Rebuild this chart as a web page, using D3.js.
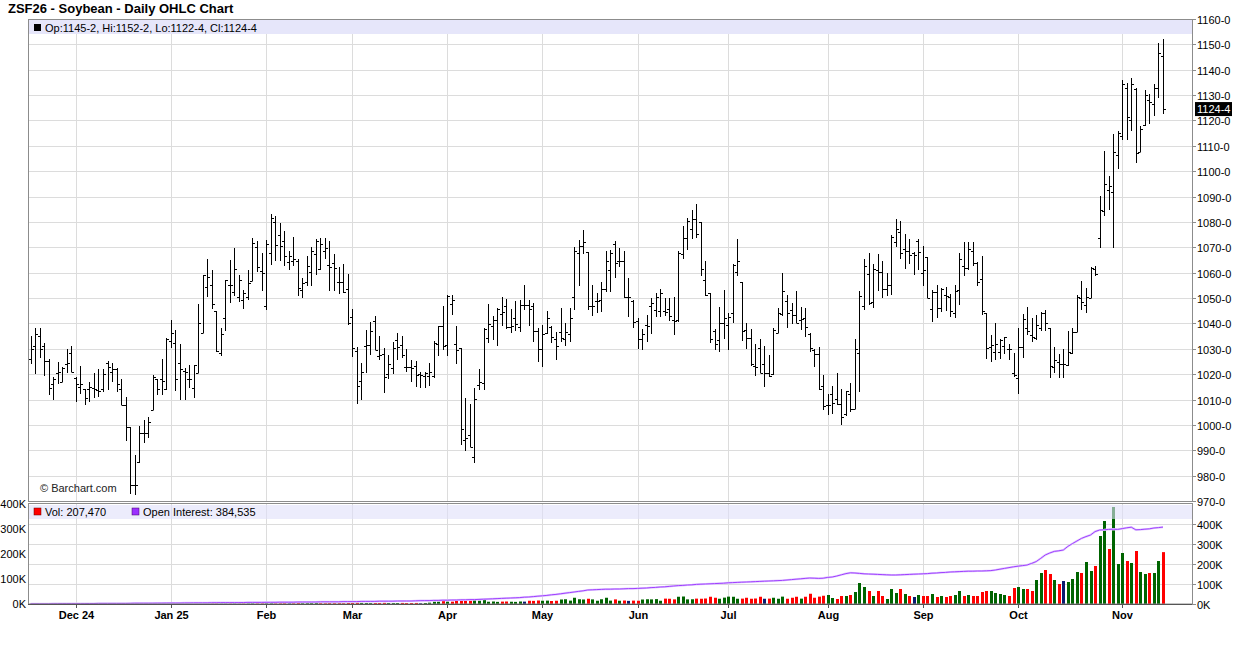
<!DOCTYPE html>
<html><head><meta charset="utf-8">
<script src="https://cdn.jsdelivr.net/npm/d3@7"></script>
<style>
body{margin:0;background:#fff;}
svg{display:block;font-family:Arial,"Liberation Sans",sans-serif;}
</style>
</head><body>
<svg id="c" width="1236" height="645"></svg>
<script>
// ---------- DATA ----------
const tradingDays = [
 ["2024-11",[15,18,19,20,21,22,25,26,27,29]],
 ["2024-12",[2,3,4,5,6,9,10,11,12,13,16,17,18,19,20,23,24,26,27,30,31]],
 ["2025-01",[2,3,6,7,8,9,10,13,14,15,16,17,21,22,23,24,27,28,29,30,31]],
 ["2025-02",[3,4,5,6,7,10,11,12,13,14,18,19,20,21,24,25,26,27,28]],
 ["2025-03",[3,4,5,6,7,10,11,12,13,14,17,18,19,20,21,24,25,26,27,28,31]],
 ["2025-04",[1,2,3,4,7,8,9,10,11,14,15,16,17,21,22,23,24,25,28,29,30]],
 ["2025-05",[1,2,5,6,7,8,9,12,13,14,15,16,19,20,21,22,23,27,28,29,30]],
 ["2025-06",[2,3,4,5,6,9,10,11,12,13,16,17,18,20,23,24,25,26,27,30]],
 ["2025-07",[1,2,3,7,8,9,10,11,14,15,16,17,18,21,22,23,24,25,28,29,30,31]],
 ["2025-08",[1,4,5,6,7,8,11,12,13,14,15,18,19,20,21,22,25,26,27,28,29]],
 ["2025-09",[2,3,4,5,8,9,10,11,12,15,16,17,18,19,22,23,24,25,26,29,30]],
 ["2025-10",[1,2,3,6,7,8,9,10,13,14,15,16,17,20,21,22,23,24,27,28,29,30,31]],
 ["2025-11",[3,4,5,6,7,10,11,12,13,14]]
];
const monthLabels = ["Dec 24","Jan 25","Feb","Mar","Apr","May","Jun","Jul","Aug","Sep","Oct","Nov"];

const opens = [
1026,1031,1035,1031,1025,1016,1020.5,1017,1024,1028.4,
1018.5,1015,1014,1014,1014.6,1013.7,1014,1024.5,1021,1022,
1014,1008,999,976.5,985.3,997,997,1006,1018,1018,
1014,1033,1032.4,1024.5,1021.2,1018,1014.6,1020.3,1036.4,1054.2,
1055,1044.7,1028.5,1042,1055.2,1052.3,1050.3,1049.2,1050.5,1056.9,
1070,1060.7,1046.7,1067.8,1080,1074.7,1072.5,1064.4,1064.8,1064.7,
1053.3,1056.2,1060.4,1067.4,1061.6,1068.4,1062.9,1063.8,1056.2,1056.2,
1053.6,1042.7,1029,1017.3,1031,1031.4,1040.8,1027.2,1028,1020.1,
1022.4,1033.3,1031.3,1022.8,1022.8,1023.3,1020.1,1019.3,1019.1,1019.1,
1032,1038.8,1031.6,1047.8,1032,1030.3,994.1,996,987.2,1015.8,
1016.4,1034.2,1038.8,1041.5,1043.7,1046.8,1038.4,1042,1038.4,1047.3,
1047.3,1046.8,1037.1,1030,1036.2,1038.4,1033.8,1036.5,1033.8,1035.8,
1050.3,1067.9,1070.5,1068.1,1046.8,1049,1049.4,1053.7,1061.1,1071.2,
1064.6,1064.6,1050.5,1048.8,1040.9,1033.7,1039.2,1046.8,1045.1,1044.9,
1044.9,1045.8,1041.3,1041.3,1067.2,1073.8,1077.4,1081.3,1080,1057.1,
1052.1,1037,1033.5,1040.3,1039.3,1044,1060.1,1056.4,1037.4,1034.1,
1023.4,1030.4,1024.2,1020.3,1019.9,1036.1,1043.6,1048.9,1045.3,1043.2,
1041.4,1042.3,1035.7,1029.5,1027.8,1015.5,1008,1012,1010.1,1008.1,
1004.1,1012,1006.4,1028.3,1047,1059.6,1048.6,1060.9,1060.2,1053.6,
1055.2,1072.1,1076,1069.2,1068.4,1067.9,1072.3,1059.9,1066,1045.7,
1052.3,1046,1051.2,1050.6,1044.3,1053.2,1062.5,1061.7,1068.7,1063.8,
1057.7,1044,1030.8,1028.7,1028.7,1031.1,1030,1020.3,1018.5,1030.8,
1038,1035.3,1034.4,1038,1044,1038.3,1022.9,1024.7,1024.2,1023.7,
1028.3,1036.8,1050,1047.4,1050,1061.4,1073.7,1084.2,1092.5,1091.7,
1106.2,1113.8,1132.9,1120.1,1132.5,1107.5,1118.4,1128,1126.3,1132.9,
1145.25];
const highs = [
1035,1038,1038,1032.4,1026,1019,1024.7,1023,1030,1031,
1019,1023.4,1014,1017,1020.5,1022,1022,1025,1024.5,1022.5,
1018,1011,999,988,999.7,1002,1003,1019.5,1018,1026,
1034.4,1041.3,1037.3,1031.8,1022.5,1023.5,1023.8,1047.6,1059,1065.5,
1061,1044.7,1038,1057,1065,1069.7,1059.1,1053.3,1061.2,1073.7,
1072.3,1067.8,1072.7,1083.3,1082.4,1079.7,1076.3,1068.4,1074,1065.5,
1057.8,1066.5,1070,1073.4,1073.7,1073.7,1072.3,1067.4,1062.2,1063.5,
1059.5,1045.6,1030.9,1024.5,1037.6,1040.6,1043,1034.9,1030.3,1027.6,
1032.5,1036.4,1035.1,1029.9,1025.4,1025.3,1020.7,1021,1024.3,1033.2,
1039.1,1047,1051.3,1051.3,1039.1,1030.3,1010.5,1008.3,1014.5,1022,
1038.2,1047.8,1043,1046,1050.3,1049.7,1045.7,1049,1049.4,1055.2,
1049.3,1048,1038,1039.4,1045,1038.8,1036.5,1046,1040.2,1046,
1070.1,1072.7,1076.7,1068.1,1055,1052,1056.5,1068.6,1069,1072.5,
1069.9,1068.6,1058,1049.2,1042.2,1037.9,1043.2,1050.1,1052.1,1053.7,
1050.1,1050.1,1050.5,1068.6,1078.4,1081.7,1084.7,1087,1080,1064.6,
1052.1,1037.9,1046.6,1053.2,1044.3,1063.4,1073.3,1056.4,1040.1,1037.7,
1031.7,1033.7,1031.1,1027.4,1038.3,1046,1059.8,1051.1,1048,1052.6,
1046.6,1045.9,1036.1,1030,1030.8,1019.5,1012.3,1015.5,1020.6,1014,
1013.4,1016.7,1033.8,1052.9,1065.5,1067.9,1063.5,1067.5,1064.8,1059.9,
1074.7,1081.3,1080.3,1075.4,1073.4,1068.1,1073.4,1070.5,1066.1,1053,
1055.2,1053.9,1054.3,1051.5,1055.1,1067.8,1072,1072.2,1072.2,1064.1,
1066.7,1044.3,1035.3,1040.1,1033.7,1034.8,1031.7,1028.2,1038.3,1043.6,
1046.6,1042.3,1043.2,1044.5,1045.3,1038.3,1030.8,1027.8,1030,1037.2,
1038.2,1051.3,1056.6,1054,1062.2,1062.8,1090.1,1107.9,1098,1114.5,
1115.8,1135.9,1134.9,1136.8,1132.9,1118,1132,1130.3,1134.2,1150.4,
1152.25];
const lows = [
1024,1020,1026.5,1019.2,1011.6,1010,1016,1017,1020.5,1021,
1009,1012,1008,1009,1010.7,1011,1013,1013.6,1017,1013,
1008,993.6,972.9,972.5,985,993,995,1006,1011.6,1011.6,
1013.7,1030.2,1013.3,1010,1010,1014.6,1010.6,1020.3,1036.4,1050.3,
1045.6,1028.7,1027,1037,1048,1050.7,1048.6,1045.6,1049.2,1056.9,
1060.2,1052.9,1045.4,1063.2,1064.5,1064.7,1062.8,1060.9,1062.8,1050.7,
1050.2,1054.6,1054.6,1059.2,1060.9,1065.5,1052.6,1052.6,1051.6,1052,
1039.4,1026.9,1008.4,1010,1020.6,1027.4,1029.6,1025.7,1012.5,1018,
1020,1025.7,1026.3,1021,1017.1,1015.1,1014.5,1014.5,1015.4,1018.4,
1027,1029.6,1027.2,1043.4,1024.1,992.1,989.9,991.4,984.9,1013.8,
1013.6,1032.2,1033.6,1031,1039.1,1037.8,1036.1,1037.1,1036.7,1045.4,
1038.8,1032.8,1024.9,1023,1035.8,1032.2,1025.6,1032.8,1031,1032.8,
1045.4,1054.9,1067.5,1045.4,1042.8,1044.1,1044.6,1052.4,1052.4,1058,
1062.4,1050.1,1042.6,1038.3,1030,1029.5,1032.6,1036,1042.6,1042.6,
1042.9,1040.9,1035.3,1040.5,1065.3,1069,1073.4,1073.8,1058.7,1051,
1032.1,1029.5,1028.7,1034,1029.5,1040.1,1058.8,1033.1,1030,1023.4,
1019.2,1020.3,1015,1019,1019.6,1036.1,1043,1038.1,1039.7,1040.1,
1037.4,1034.8,1028.7,1022.9,1013.9,1006,1004,1004.4,1007.7,999.8,
1003.5,1005.1,1006.4,1013,1045.4,1047.3,1046,1052.6,1049.9,1050.7,
1051.2,1070.1,1065.5,1061.5,1063.5,1058.9,1060.9,1054.9,1049.9,1040.4,
1042,1044.4,1045,1042.7,1042.3,1047.2,1058.8,1061.2,1062.7,1054.6,
1043.2,1026.1,1024.7,1025.5,1025.8,1027.8,1025.5,1018.9,1012.3,1026.5,
1035.3,1032.7,1033.5,1037,1037,1018.5,1020.3,1018.5,1018.5,1023.3,
1028,1036.8,1045.4,1044.3,1050,1058.6,1069.7,1082.5,1084.9,1069.7,
1100.7,1112.2,1112.5,1115.8,1103.3,1107.5,1118,1118.8,1121.7,1128.9,
1122.5];
const closes = [
1030,1036,1030,1025,1014.6,1018,1021,1022.5,1024.5,1021,
1016,1016,1010.6,1015,1014,1013.3,1020,1023,1022,1016,
1008,999,976.5,976.5,997,997,1001,1019,1014,1017.3,
1033.8,1036.4,1018,1022,1020.8,1018,1023.8,1040,1058.9,1058.2,
1047.6,1029,1035.7,1057,1055,1061.5,1057.3,1051.9,1055.8,1071.8,
1062.2,1059.8,1071.4,1081.6,1071,1070.5,1066.5,1066.5,1065.2,1053.8,
1055.8,1062.6,1068.4,1072.5,1071.4,1069.8,1062.2,1061.9,1056.2,1052.3,
1040.1,1030.5,1015.5,1020.8,1031.5,1037.1,1029.6,1027.6,1018.8,1024,
1030.3,1030.9,1027.6,1022.8,1022.4,1019.7,1019.7,1020.5,1021,1032.2,
1038.8,1031.2,1050.9,1049.3,1029.6,998.3,994.7,991.4,1010.1,1017.1,
1037.8,1039.9,1041.5,1045.7,1044.6,1038.4,1039.1,1039.8,1047.3,1047.3,
1045.7,1037.1,1030,1035.8,1042,1034.5,1031.2,1034.1,1036.7,1042,
1068.4,1070.5,1072.1,1046.8,1047,1049,1053.4,1064.6,1067.6,1063.7,
1064.6,1050.5,1050.5,1040.5,1033.7,1036,1038.9,1048.2,1050.5,1052,
1044.5,1042.9,1040.9,1067.6,1073.8,1080.4,1081.3,1075.1,1061.6,1051.4,
1033.7,1031.7,1040.1,1042.3,1042.7,1063,1064.5,1037,1034.1,1024.1,
1022.9,1020.5,1020.5,1019.2,1037.4,1044,1052.8,1044,1043.2,1040.3,
1041.9,1038.7,1030.2,1027.8,1014.2,1007.6,1008,1008.6,1008.1,1003.2,
1013.4,1006.4,1029.9,1050.7,1062.8,1048.1,1061.5,1060.2,1053.6,1055.2,
1074.1,1077.1,1067.9,1068.4,1067.1,1067.1,1068,1060.9,1050,1052.3,
1046,1053.4,1050.7,1044.9,1052.8,1065.4,1061.7,1069.3,1063.8,1056.4,
1044.9,1030.4,1031.3,1032,1033.5,1034.5,1030,1019.5,1030.8,1041.9,
1037,1034.8,1039.3,1044.3,1040,1023.4,1025.4,1024.2,1024.2,1028.6,
1036.8,1050.3,1048.3,1050.3,1061.8,1059.6,1084.6,1095.1,1094.1,1107.5,
1115.1,1134.2,1121.4,1134.2,1107.2,1116.7,1129.9,1127.2,1132.9,1146.7,
1124.5];
// volume, thousands of contracts
const volumeK = [
0.5,0.6,0.4,0.7,0.5,0.6,0.8,0.7,0.9,0.6,0.8,
1,0.8,1.1,0.9,1.2,1,0.9,1.3,1.1,0.7,0.6,0.9,1,1.6,1.2,1.4,1.1,1.5,1.3,1.6,1.8,
2.2,1.8,1.5,1.7,1.9,2.5,2.8,2.2,2.4,2.6,2.1,2.3,2.7,2.9,2.0,1.9,2.2,2.8,2.5,3.0,3.2,
3.5,2.8,2.6,2.9,2.4,2.7,3.1,2.6,2.8,3.0,3.3,2.9,2.5,3.1,2.8,3.0,2.7,3.8,4.2,
5.0,4.4,3.9,3.6,3.8,4.1,4.6,3.9,3.7,4.0,4.3,3.8,3.9,4.2,
3,4,5.3,9.3,9.3,14.7,9.3,9.3,13.3,18.7,13.3,13.3,18.7,13.3,18.7,
9,10,8.5,9.5,10,9,8.5,10,9.5,13,12.5,14,13,13.5,12,13,18,19,13.5,25,
19,18,21,18.5,13,19,25,13.5,18.5,13,14,12.5,13.5,13,18,19,18.5,19.5,13,21.5,
21,18.5,29,30,18.5,19,21.5,21,22,29,25,21,25.5,29.5,29,21,21.5,25,21,22,
29,21,21.5,25,21,29.5,21,25,29,21.5,29,41,25,29.5,33,36,
24,20,32,32,36,48,84,68,52,32,52,32,20,60,44,60,40,32,28,36,
32,32,40,28,32,28,32,36,52,32,36,32,32,48,52,52,44,40,36,32,
64,68,60,60,52,96,124,136,120,96,80,92,88,100,128,124,168,132,152,272,
332,220,388,160,204,172,164,212,128,120,124,124,172,207.47];
// open interest, thousands of contracts
const openInterestK = [
1,1,1,1,1,1.5,1.5,2,2,2,2,
2,2,2.5,2.5,3,3,3,3,3,3,3,3.5,4,4,4,4,4,4.5,4.5,5,5,
5,5,5.5,5.5,6,6,6,6,6.5,6.5,7,7,7,7,7,7.5,8,8,8,8,8.5,
8.5,8.5,9,9,9,9,10,10,10,10,10,11,11,11,11,11,12,12,12,
12,13,13,13,13,14,14,14,14,15,15,15,15,16,16.5,
17,17,18,18,19,19,20,20,21,21,22,22,23,24,
25,26,27,28,29,30,31,32,34,35,37,
39,41,43,46,48,51,54,57,60,63,66,70,
71,72,73,74,74,75,75,76,77,77,78,
79,80,82,83,85,86,88,90,
92,93,95,96,98,99,100,101,102,103,104,106,
107,108,109,110,111,112,113,114,115,116,
117,118,120,122,124,126,128,130,129,128,129,133,
135,140,146,152,156,155,153,151,150,149,148,147,146,145,145,146,147,148,149,150,
151,152,154,155,157,158,160,161,162,163,164,164,165,165,166,167,170,174,178,182,186,
189,192,195,203,212,228,245,255,263,266,270,288,302,315,328,337,345,362,370,371,373,374,373,377,381,384,371,372,374,376,380,382,384.535];
const lastVolume = 207470, lastOpenInterest = 384535;

// ---------- BUILD ----------
const dates = [];
tradingDays.forEach(([ym, days]) => days.forEach(d => dates.push(ym + "-" + String(d).padStart(2,"0"))));
const data = dates.map((d,i) => ({i, date:d, o:opens[i], h:highs[i], l:lows[i], c:closes[i], v:volumeK[i], oi:openInterestK[i]}));

const svg = d3.select("#c");
const L = 28, R = 1192, PT = 19, PB = 501, VT = 504, VB = 604;
const x = d3.scaleLinear().domain([0, data.length - 1]).range([30.5, 1163]);
const y = d3.scaleLinear().domain([970, 1160]).range([PB, PT]);
const yV = d3.scaleLinear().domain([0, 400]).range([VB, VT]);
const yOI = d3.scaleLinear().domain([0, 400]).range([VB, VT + 20]);
const px = v => Math.round(v) + 0.5;
const fmtPrice = v => { const w = Math.floor(v + 1e-9); return w + "-" + Math.round((v - w) * 8); };
const grid = "#dcdcdc", frame = "#8c8c8c";

// month start indices
const monthStarts = [];
dates.forEach((d,i) => { if (i > 0 && d.slice(0,7) !== dates[i-1].slice(0,7)) monthStarts.push(i); });

// title
svg.append("text").attr("x", 8).attr("y", 13).attr("font-size", 13).attr("font-weight", "bold")
  .text("ZSF26 - Soybean - Daily OHLC Chart");

// price grid
const gP = svg.append("g");
gP.selectAll("line.h").data(d3.range(970, 1161, 10)).join("line")
  .attr("x1", L).attr("x2", R).attr("y1", d => px(y(d))).attr("y2", d => px(y(d)))
  .attr("stroke", grid);
gP.selectAll("line.v").data(monthStarts).join("line")
  .attr("x1", d => px(x(d))).attr("x2", d => px(x(d))).attr("y1", PT).attr("y2", PB)
  .attr("stroke", grid);

// header strip price
svg.append("rect").attr("x", L + 1).attr("y", PT + 1).attr("width", R - L - 1).attr("height", 14).attr("fill", "#e6e6fa");
svg.append("rect").attr("x", 34).attr("y", 24).attr("width", 7).attr("height", 7).attr("fill", "#000");
const last = data[data.length - 1];
svg.append("text").attr("x", 45).attr("y", 31.5).attr("font-size", 11)
  .text(`Op:${fmtPrice(last.o)}, Hi:${fmtPrice(last.h)}, Lo:${fmtPrice(last.l)}, Cl:${fmtPrice(last.c)}`);

// OHLC bars
const gB = svg.append("g").attr("stroke", "#000").attr("stroke-width", 1);
data.forEach(d => {
  const cx = px(x(d.i));
  let yh = y(d.h), yl = y(d.l);
  if (yl - yh < 1) yl = yh + 1;
  gB.append("line").attr("x1", cx).attr("x2", cx).attr("y1", Math.round(yh)).attr("y2", Math.round(yl));
  gB.append("line").attr("x1", cx - 2.5).attr("x2", cx).attr("y1", px(y(d.o))).attr("y2", px(y(d.o)));
  gB.append("line").attr("x1", cx).attr("x2", cx + 2.5).attr("y1", px(y(d.c))).attr("y2", px(y(d.c)));
});

svg.append("text").attr("x", 40).attr("y", 492).attr("font-size", 11).attr("fill", "#222").text("© Barchart.com");

// price frame
svg.append("rect").attr("x", L + 0.5).attr("y", PT + 0.5).attr("width", R - L).attr("height", PB - PT)
  .attr("fill", "none").attr("stroke", frame);

// right price axis
const gA = svg.append("g");
d3.range(970, 1161, 10).forEach(v => {
  const yy = px(y(v));
  gA.append("line").attr("x1", R).attr("x2", R + 4).attr("y1", yy).attr("y2", yy).attr("stroke", frame);
  gA.append("text").attr("x", 1197).attr("y", yy + 4).attr("font-size", 11).text(v + "-0");
});
// last price marker
const ly = y(last.c);
svg.append("rect").attr("x", 1195).attr("y", ly - 7).attr("width", 37).attr("height", 14).attr("fill", "#000");
svg.append("text").attr("x", 1197).attr("y", ly + 4).attr("font-size", 11).attr("fill", "#fff").text(fmtPrice(last.c));

// ---------- volume panel ----------
const gV = svg.append("g");
gV.selectAll("line.h").data([100,200,300,400]).join("line")
  .attr("x1", L).attr("x2", R).attr("y1", d => px(yOI(d))).attr("y2", d => px(yOI(d))).attr("stroke", grid);
gV.selectAll("line.v").data(monthStarts).join("line")
  .attr("x1", d => px(x(d))).attr("x2", d => px(x(d))).attr("y1", VT).attr("y2", VB).attr("stroke", grid);

const volColor = d => {
  if (d.i === 0) return "#006400";
  const p = data[d.i - 1].c;
  if (Math.abs(d.c - p) < 1e-9) return "#0a1a6e";
  return d.c > p ? "#006400" : "#ff0000";
};
gV.selectAll("rect.vol").data(data).join("rect")
  .attr("x", d => Math.round(x(d.i)) - 1).attr("width", 3)
  .attr("y", d => yV(d.v)).attr("height", d => VB - yV(d.v))
  .attr("fill", volColor);

// OI line
const oiLine = d3.line().x(d => x(d.i)).y(d => yOI(d.oi));
gV.append("path").datum(data).attr("d", oiLine).attr("fill", "none").attr("stroke", "#e2ccff").attr("stroke-width", 2.2);
gV.append("path").datum(data).attr("d", oiLine).attr("fill", "none").attr("stroke", "#a040ff").attr("stroke-width", 1);

// header strip volume (semi-transparent over bars)
svg.append("rect").attr("x", L + 1).attr("y", VT + 1).attr("width", R - L - 1).attr("height", 14)
  .attr("fill", "#e0e0fa").attr("opacity", 0.6);
svg.append("rect").attr("x", 34).attr("y", 508).attr("width", 7).attr("height", 7).attr("fill", "#ff0000").attr("stroke", "#600").attr("stroke-width", 0.5);
svg.append("text").attr("x", 45).attr("y", 516).attr("font-size", 11).text("Vol: " + d3.format(",")(lastVolume));
svg.append("rect").attr("x", 132).attr("y", 508).attr("width", 7).attr("height", 7).attr("fill", "#9b30ff").attr("stroke", "#406").attr("stroke-width", 0.5);
svg.append("text").attr("x", 143).attr("y", 516).attr("font-size", 11).text("Open Interest: " + d3.format(",")(lastOpenInterest));

// volume frame
svg.append("rect").attr("x", L + 0.5).attr("y", VT - 0.5).attr("width", R - L).attr("height", VB - VT + 0.5)
  .attr("fill", "none").attr("stroke", frame);
svg.append("line").attr("x1", L).attr("x2", R + 1).attr("y1", VB + 0.5).attr("y2", VB + 0.5).attr("stroke", "#555");

// left volume axis
[0,100,200,300,400].forEach(v => {
  svg.append("text").attr("x", 26).attr("y", yV(v) + 4).attr("font-size", 11).attr("text-anchor", "end").text(v + "K");
});
// right OI axis
[0,100,200,300,400].forEach(v => {
  const yy = px(yOI(v));
  svg.append("line").attr("x1", R).attr("x2", R + 4).attr("y1", yy).attr("y2", yy).attr("stroke", frame);
  svg.append("text").attr("x", 1197).attr("y", yy + 4).attr("font-size", 11).text(v + "K");
});

// x axis
monthStarts.forEach((idx, k) => {
  const xx = px(x(idx));
  svg.append("line").attr("x1", xx).attr("x2", xx).attr("y1", VB).attr("y2", VB + 4).attr("stroke", "#555");
  svg.append("text").attr("x", xx).attr("y", 619).attr("font-size", 11).attr("font-weight", "bold")
    .attr("text-anchor", "middle").text(monthLabels[k]);
});
</script>
</body></html>
